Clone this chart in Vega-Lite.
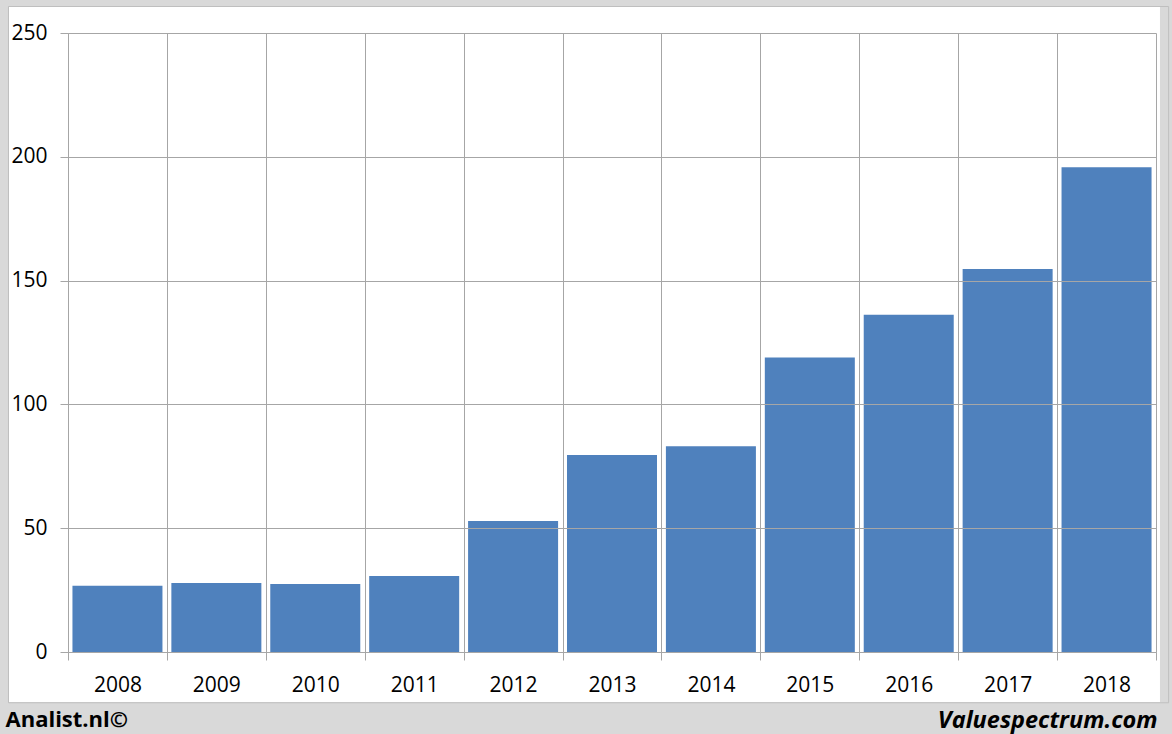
{
  "$schema": "https://vega.github.io/schema/vega-lite/v6.json",
  "width": 1088,
  "height": 619,
  "autosize": {"type": "none"},
  "padding": {"left": 68, "top": 33, "right": 16, "bottom": 82},
  "background": "white",
  "config": {
    "view": {"stroke": null},
    "font": "Open Sans"
  },
  "resolve": {"scale": {"x": "independent"}},
  "layer": [
    {
      "data": {"values": [
        {"year": "2008", "value": 26.8},
        {"year": "2009", "value": 27.9},
        {"year": "2010", "value": 27.5},
        {"year": "2011", "value": 30.7},
        {"year": "2012", "value": 52.9},
        {"year": "2013", "value": 79.6},
        {"year": "2014", "value": 83.1},
        {"year": "2015", "value": 118.9},
        {"year": "2016", "value": 136.2},
        {"year": "2017", "value": 154.7},
        {"year": "2018", "value": 195.8}
      ]},
      "mark": {"type": "bar", "color": "#4f81bd", "width": {"band": 0.91}},
      "encoding": {
        "x": {
          "field": "year", "type": "ordinal",
          "scale": {"paddingInner": 0, "paddingOuter": 0},
          "axis": {
            "title": "Valuespectrum.com",
            "titleX": 1089, "titleY": 75,
            "titleAlign": "right", "titleAnchor": null, "titleBaseline": "alphabetic",
            "titleFont": "Open Sans", "titleFontSize": 23.5, "titleFontWeight": "bold", "titleFontStyle": "italic", "titleColor": "black",
            "labelAngle": 0, "labelFontSize": 21, "labelColor": "black", "labelPadding": 14,
            "tickBand": "extent", "tickSize": 8, "tickColor": "#a6a6a6", "domainColor": "#a6a6a6",
            "grid": true, "gridColor": "#a6a6a6", "gridOpacity": 1,
            "zindex": 1
          }
        },
        "y": {
          "field": "value", "type": "quantitative",
          "scale": {"domain": [0, 250], "nice": false},
          "axis": {
            "values": [0, 50, 100, 150, 200, 250],
            "title": "Analist.nl©",
            "titleAngle": 0, "titleX": -63, "titleY": 693,
            "titleAlign": "left", "titleAnchor": null, "titleBaseline": "alphabetic",
            "titleFontSize": 22, "titleFontWeight": "bold", "titleColor": "black",
            "labelFontSize": 21, "labelColor": "black", "labelPadding": 13,
            "tickSize": 8, "tickColor": "#a6a6a6", "domainColor": "#a6a6a6",
            "grid": true, "gridColor": "#a6a6a6", "gridOpacity": 1,
            "zindex": 1
          }
        }
      }
    },
    {
      "data": {"values": [{}]},
      "mark": {"type": "rect", "color": "#d9d9d9"},
      "encoding": {
        "x": {"datum": -0.07, "type": "quantitative", "scale": {"domain": [0, 1], "nice": false, "zero": false}, "axis": null},
        "x2": {"datum": 1.03},
        "y": {"datum": -20.6, "type": "quantitative", "scale": {"domain": [0, 250], "nice": false}},
        "y2": {"datum": -40}
      }
    },
    {
      "data": {"values": [{}]},
      "mark": {"type": "rect", "fill": null, "filled": false, "stroke": "#d9d9d9", "strokeWidth": 16, "opacity": 1},
      "encoding": {
        "x": {"datum": -0.0625, "type": "quantitative", "scale": {"domain": [0, 1], "nice": false, "zero": false}, "axis": null},
        "x2": {"datum": 1.011},
        "y": {"datum": 263.7, "type": "quantitative", "scale": {"domain": [0, 250], "nice": false}},
        "y2": {"datum": -23.4}
      }
    },
    {
      "data": {"values": [{}]},
      "mark": {"type": "rect", "fill": null, "filled": false, "stroke": "#bfbfbf", "strokeWidth": 1, "opacity": 1},
      "encoding": {
        "x": {"datum": -0.0547, "type": "quantitative", "scale": {"domain": [0, 1], "nice": false, "zero": false}, "axis": null},
        "x2": {"datum": 1.0116},
        "y": {"datum": 260.7, "type": "quantitative", "scale": {"domain": [0, 250], "nice": false}},
        "y2": {"datum": -20.5}
      }
    }
  ]
}
